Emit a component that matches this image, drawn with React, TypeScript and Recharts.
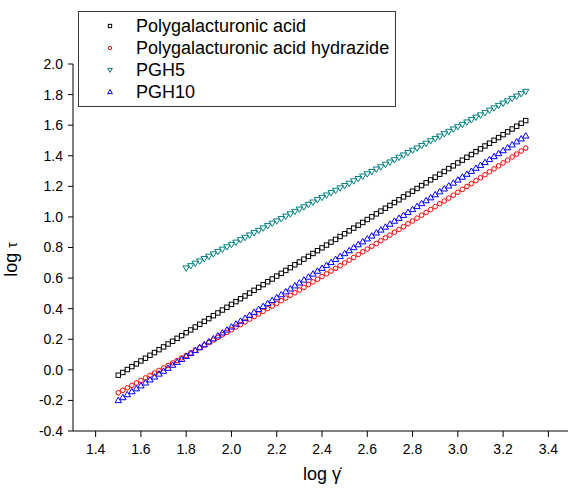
import React from 'react';
import { ScatterChart, Scatter, XAxis, YAxis, Label } from 'recharts';

// log(shear rate) values, shared by all samples
const logShearRate = [
  1.50, 1.52, 1.54, 1.56, 1.58, 1.60, 1.62, 1.64, 1.66, 1.68,
  1.70, 1.72, 1.74, 1.76, 1.78, 1.80, 1.82, 1.84, 1.86, 1.88,
  1.90, 1.92, 1.94, 1.96, 1.98, 2.00, 2.02, 2.04, 2.06, 2.08,
  2.10, 2.12, 2.14, 2.16, 2.18, 2.20, 2.22, 2.24, 2.26, 2.28,
  2.30, 2.32, 2.34, 2.36, 2.38, 2.40, 2.42, 2.44, 2.46, 2.48,
  2.50, 2.52, 2.54, 2.56, 2.58, 2.60, 2.62, 2.64, 2.66, 2.68,
  2.70, 2.72, 2.74, 2.76, 2.78, 2.80, 2.82, 2.84, 2.86, 2.88,
  2.90, 2.92, 2.94, 2.96, 2.98, 3.00, 3.02, 3.04, 3.06, 3.08,
  3.10, 3.12, 3.14, 3.16, 3.18, 3.20, 3.22, 3.24, 3.26, 3.28,
  3.30,
];

const polygalacturonicAcid = [
  -0.035, -0.017, 0.002, 0.021, 0.039, 0.058, 0.076, 0.095, 0.113, 0.132,
  0.150, 0.169, 0.187, 0.206, 0.224, 0.243, 0.261, 0.280, 0.298, 0.317,
  0.335, 0.354, 0.372, 0.391, 0.409, 0.428, 0.446, 0.465, 0.483, 0.502,
  0.520, 0.539, 0.557, 0.576, 0.594, 0.613, 0.631, 0.650, 0.668, 0.687,
  0.705, 0.724, 0.742, 0.761, 0.779, 0.798, 0.816, 0.835, 0.853, 0.872,
  0.890, 0.909, 0.927, 0.946, 0.964, 0.983, 1.001, 1.020, 1.038, 1.057,
  1.075, 1.094, 1.112, 1.131, 1.149, 1.168, 1.186, 1.205, 1.223, 1.242,
  1.260, 1.279, 1.297, 1.316, 1.334, 1.353, 1.371, 1.390, 1.408, 1.427,
  1.445, 1.464, 1.482, 1.501, 1.519, 1.538, 1.556, 1.575, 1.593, 1.612,
  1.630,
];

const hydrazide = [
  -0.150, -0.134, -0.118, -0.102, -0.086, -0.070, -0.053, -0.037, -0.021, -0.004,
  0.012, 0.028, 0.045, 0.061, 0.078, 0.094, 0.111, 0.128, 0.144, 0.161,
  0.178, 0.195, 0.212, 0.229, 0.245, 0.262, 0.280, 0.296, 0.313, 0.331,
  0.348, 0.365, 0.382, 0.400, 0.417, 0.434, 0.452, 0.469, 0.487, 0.504,
  0.522, 0.539, 0.557, 0.575, 0.592, 0.610, 0.628, 0.646, 0.664, 0.681,
  0.699, 0.717, 0.735, 0.754, 0.772, 0.790, 0.808, 0.826, 0.844, 0.863,
  0.881, 0.900, 0.918, 0.936, 0.955, 0.973, 0.992, 1.011, 1.029, 1.048,
  1.067, 1.086, 1.104, 1.123, 1.142, 1.161, 1.180, 1.199, 1.218, 1.237,
  1.256, 1.276, 1.295, 1.314, 1.334, 1.353, 1.372, 1.392, 1.411, 1.431,
  1.450,
];

// PGH5 starts at log shear rate 1.80
const pgh5 = [
  0.665, 0.680, 0.696, 0.711, 0.727,
  0.742, 0.757, 0.773, 0.788, 0.804, 0.819, 0.834, 0.850, 0.865, 0.881,
  0.896, 0.911, 0.927, 0.942, 0.958, 0.973, 0.988, 1.004, 1.019, 1.035,
  1.050, 1.065, 1.081, 1.096, 1.112, 1.127, 1.142, 1.158, 1.173, 1.189,
  1.204, 1.219, 1.235, 1.250, 1.266, 1.281, 1.296, 1.312, 1.327, 1.343,
  1.358, 1.373, 1.389, 1.404, 1.420, 1.435, 1.450, 1.466, 1.481, 1.497,
  1.512, 1.527, 1.543, 1.558, 1.574, 1.589, 1.604, 1.620, 1.635, 1.651,
  1.666, 1.681, 1.697, 1.712, 1.728, 1.743, 1.758, 1.774, 1.789, 1.805,
  1.820,
];

const pgh10 = [
  -0.200, -0.181, -0.162, -0.142, -0.123, -0.104, -0.085, -0.065, -0.046, -0.027,
  -0.008, 0.011, 0.031, 0.050, 0.069, 0.088, 0.108, 0.127, 0.146, 0.165,
  0.184, 0.204, 0.223, 0.242, 0.261, 0.281, 0.300, 0.319, 0.338, 0.357,
  0.377, 0.396, 0.415, 0.434, 0.454, 0.473, 0.492, 0.511, 0.530, 0.550,
  0.569, 0.588, 0.607, 0.627, 0.646, 0.665, 0.684, 0.703, 0.723, 0.742,
  0.761, 0.780, 0.800, 0.819, 0.838, 0.857, 0.876, 0.896, 0.915, 0.934,
  0.953, 0.973, 0.992, 1.011, 1.030, 1.049, 1.069, 1.088, 1.107, 1.126,
  1.146, 1.165, 1.184, 1.203, 1.222, 1.242, 1.261, 1.280, 1.299, 1.319,
  1.338, 1.357, 1.376, 1.395, 1.415, 1.434, 1.453, 1.472, 1.492, 1.511,
  1.530,
];

const xTicks = [1.4, 1.6, 1.8, 2.0, 2.2, 2.4, 2.6, 2.8, 3.0, 3.2, 3.4];
const xMinorTicks = [1.3, 1.5, 1.7, 1.9, 2.1, 2.3, 2.5, 2.7, 2.9, 3.1, 3.3];
const yTicks = [-0.4, -0.2, 0.0, 0.2, 0.4, 0.6, 0.8, 1.0, 1.2, 1.4, 1.6, 1.8, 2.0];
const yMinorTicks = [-0.3, -0.1, 0.1, 0.3, 0.5, 0.7, 0.9, 1.1, 1.3, 1.5, 1.7, 1.9];

const FONT = 'Arial, "Liberation Sans", sans-serif';

type MarkerKind = 'square' | 'circle' | 'down' | 'up';

const Marker = ({ kind, cx, cy, color, k = 1 }: { kind: MarkerKind; cx: number; cy: number; color: string; k?: number }) => {
  if (kind === 'square') {
    const h = 2.2 * k;
    return <rect x={cx - h} y={cy - h} width={2 * h} height={2 * h} fill="none" stroke={color} strokeWidth={1} />;
  }
  if (kind === 'circle') {
    return <circle cx={cx} cy={cy} r={2.3 * k} fill="none" stroke={color} strokeWidth={1} />;
  }
  const w = 3.2 * k;
  const a = 2.2 * k;
  const b = 3.2 * k;
  if (kind === 'down') {
    return (
      <polygon
        points={`${cx - w},${cy - a} ${cx + w},${cy - a} ${cx},${cy + b}`}
        fill="none"
        stroke={color}
        strokeWidth={1}
      />
    );
  }
  return (
    <polygon
      points={`${cx - w},${cy + a} ${cx + w},${cy + a} ${cx},${cy - b}`}
      fill="none"
      stroke={color}
      strokeWidth={1}
    />
  );
};

const SERIES: { name: string; kind: MarkerKind; color: string; data: { x: number; y: number }[] }[] = [
  {
    name: 'Polygalacturonic acid',
    kind: 'square',
    color: '#000000',
    data: polygalacturonicAcid.map((y, i) => ({ x: logShearRate[i], y })),
  },
  {
    name: 'Polygalacturonic acid hydrazide',
    kind: 'circle',
    color: '#ff0000',
    data: hydrazide.map((y, i) => ({ x: logShearRate[i], y })),
  },
  {
    name: 'PGH5',
    kind: 'down',
    color: '#008080',
    data: pgh5.map((y, i) => ({ x: logShearRate[i + 15], y })),
  },
  {
    name: 'PGH10',
    kind: 'up',
    color: '#0000ff',
    data: pgh10.map((y, i) => ({ x: logShearRate[i], y })),
  },
];

const YTitle = (props: any) => {
  const { viewBox } = props;
  const cx = viewBox.x + 17;
  const cy = viewBox.y + viewBox.height / 2 + 12;
  return (
    <text
      x={cx}
      y={cy}
      transform={`rotate(-90, ${cx}, ${cy})`}
      textAnchor="middle"
      fontFamily={FONT}
      fontSize={18}
      fill="#000"
    >
      log <tspan fontSize={14}>τ</tspan>
    </text>
  );
};

export default function App() {
  return (
    <div style={{ position: 'absolute', left: 0, top: 0, width: 568, height: 488, overflow: 'hidden', background: '#fff' }}>
      <ScatterChart width={571} height={488} margin={{ top: 64, right: 0, bottom: 0, left: 0 }}>
        <XAxis
          xAxisId="minor"
          type="number"
          dataKey="x"
          domain={[1.3, 3.5]}
          ticks={xMinorTicks}
          tick={false}
          tickSize={3}
          axisLine={false}
          tickLine={{ stroke: '#000' }}
          height={0}
        />
        <XAxis
          type="number"
          dataKey="x"
          domain={[1.3, 3.5]}
          ticks={xTicks}
          tickFormatter={(v: number) => v.toFixed(1)}
          tick={{ fill: '#000', fontSize: 14, fontFamily: FONT }}
          tickSize={6}
          tickMargin={7}
          axisLine={{ stroke: '#000' }}
          tickLine={{ stroke: '#000' }}
          height={57}
        >
          <Label value="log γ̇" position="insideBottom" offset={8} fill="#000" fontSize={18} fontFamily={FONT} />
        </XAxis>
        <YAxis
          yAxisId="minor"
          type="number"
          dataKey="y"
          domain={[-0.4, 2.0]}
          ticks={yMinorTicks}
          tick={false}
          tickSize={3}
          axisLine={false}
          tickLine={{ stroke: '#000' }}
          width={0}
        />
        <YAxis
          type="number"
          dataKey="y"
          domain={[-0.4, 2.0]}
          ticks={yTicks}
          tickFormatter={(v: number) => v.toFixed(1)}
          tick={{ fill: '#000', fontSize: 14, fontFamily: FONT }}
          tickSize={5}
          tickMargin={5}
          axisLine={{ stroke: '#000' }}
          tickLine={{ stroke: '#000' }}
          width={73}
        >
          <Label content={<YTitle />} />
        </YAxis>
        {SERIES.map((s) => (
          <Scatter
            key={s.name}
            name={s.name}
            data={s.data}
            isAnimationActive={false}
            shape={(p: any) => <Marker kind={s.kind} cx={p.cx} cy={p.cy} color={s.color} />}
          />
        ))}
      </ScatterChart>
      <div
        style={{
          position: 'absolute',
          left: 78,
          top: 11,
          width: 316,
          height: 94,
          border: '1px solid #3a3a3a',
          background: '#fff',
          fontFamily: FONT,
          fontSize: 18,
          color: '#000',
        }}
      >
        {SERIES.map((s, i) => (
          <div key={s.name} style={{ position: 'absolute', left: 0, top: 3 + i * 22, height: 22, display: 'flex', alignItems: 'center', whiteSpace: 'nowrap' }}>
            <svg width={50} height={22} style={{ display: 'block' }}>
              <Marker kind={s.kind} cx={31} cy={11} color={s.color} k={0.75} />
            </svg>
            <span style={{ marginLeft: 7, lineHeight: '22px' }}>{s.name}</span>
          </div>
        ))}
      </div>
    </div>
  );
}
